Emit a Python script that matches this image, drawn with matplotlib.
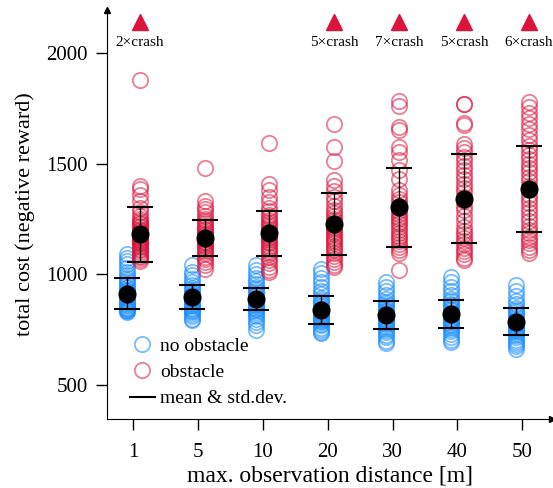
import numpy as np
import matplotlib
matplotlib.use('Agg')
import matplotlib.pyplot as plt
from matplotlib.lines import Line2D

plt.rcParams['font.family'] = ['Liberation Serif', 'DejaVu Serif']

# distances (category labels)
distances = ['1', '5', '10', '20', '30', '40', '50']

# individual runs without obstacle
no_obs_runs = [
    [1090, 1075, 1060, 1045, 1030, 1010, 995, 985, 975, 965, 955, 945, 940, 930, 925, 920, 915, 910,
     905, 900, 895, 890, 885, 880, 875, 870, 865, 860, 855, 850, 848, 845, 840, 838, 835, 830],
    [1040, 1010, 995, 980, 965, 950, 940, 930, 920, 912, 905, 900, 895, 890, 885, 880, 875, 870,
     865, 860, 855, 850, 845, 840, 835, 830, 820, 810, 800, 792],
    [1040, 1020, 1000, 985, 970, 955, 945, 935, 925, 915, 905, 900, 895, 888, 880, 875, 870, 865,
     860, 855, 850, 845, 840, 830, 820, 810, 800, 785, 770, 750],
    [1026, 1005, 985, 965, 945, 925, 910, 895, 885, 875, 865, 855, 850, 845, 840, 835, 830, 825,
     820, 815, 810, 805, 800, 795, 790, 785, 778, 770, 760, 750, 740, 733],
    [965, 945, 925, 905, 890, 875, 865, 855, 848, 840, 835, 830, 825, 820, 815, 810, 805, 800,
     795, 790, 785, 780, 775, 768, 760, 750, 740, 728, 715, 700, 688],
    [988, 965, 945, 925, 905, 890, 878, 868, 860, 852, 845, 838, 832, 826, 820, 815, 810, 805,
     800, 795, 790, 785, 778, 770, 762, 752, 742, 730, 715, 705, 694],
    [950, 925, 900, 880, 865, 850, 840, 830, 822, 815, 808, 800, 795, 790, 785, 780, 775, 770,
     765, 760, 755, 750, 742, 735, 725, 715, 705, 695, 685, 675, 664],
]

# individual runs with obstacle (crashed runs not shown)
obs_runs = [
    [1879, 1400, 1385, 1360, 1330, 1300, 1280, 1265, 1250, 1240, 1232, 1225, 1218, 1212, 1205, 1200,
     1195, 1190, 1185, 1180, 1175, 1170, 1165, 1160, 1155, 1150, 1145, 1140, 1135, 1130, 1122, 1115,
     1108, 1100, 1092, 1085, 1078, 1070, 1062],
    [1482, 1330, 1310, 1295, 1280, 1265, 1250, 1240, 1230, 1220, 1212, 1205, 1198, 1190, 1183, 1176,
     1170, 1164, 1158, 1152, 1146, 1140, 1133, 1126, 1118, 1110, 1100, 1090, 1080, 1068, 1055, 1040, 1025],
    [1595, 1410, 1380, 1350, 1325, 1300, 1285, 1270, 1258, 1246, 1235, 1225, 1216, 1208, 1200, 1192,
     1185, 1178, 1170, 1162, 1155, 1148, 1140, 1130, 1120, 1110, 1100, 1090, 1078, 1065, 1050, 1035,
     1020, 1010],
    [1680, 1575, 1510, 1425, 1400, 1375, 1350, 1330, 1310, 1292, 1278, 1265, 1252, 1240, 1230, 1220,
     1210, 1200, 1190, 1180, 1170, 1160, 1150, 1140, 1130, 1120, 1110, 1098, 1085, 1070, 1055, 1040, 1033],
    [1783, 1760, 1665, 1650, 1575, 1552, 1515, 1470, 1430, 1380, 1360, 1340, 1325, 1310, 1298, 1285,
     1272, 1260, 1248, 1236, 1225, 1212, 1200, 1188, 1175, 1162, 1150, 1138, 1125, 1110, 1095, 1021],
    [1771, 1768, 1681, 1675, 1590, 1570, 1550, 1530, 1510, 1490, 1470, 1450, 1430, 1410, 1390, 1370,
     1350, 1330, 1310, 1290, 1265, 1240, 1215, 1195, 1180, 1165, 1150, 1135, 1120, 1105, 1090, 1075, 1063],
    [1778, 1755, 1730, 1705, 1680, 1655, 1630, 1605, 1580, 1560, 1540, 1520, 1500, 1480, 1460, 1440,
     1420, 1400, 1380, 1360, 1340, 1320, 1300, 1280, 1260, 1240, 1220, 1200, 1185, 1170, 1155, 1140,
     1125, 1110, 1095],
]

# mean & std.dev.
no_obs_mean = [913, 898, 887, 839, 817, 822, 787]
no_obs_std = [70, 55, 50, 63, 62, 63, 59]
obs_mean = [1180, 1163, 1185, 1228, 1302, 1342, 1386]
obs_std = [125, 82, 102, 139, 180, 199, 195]

# number of crashed runs with obstacle
crashes = [2, 0, 0, 5, 7, 5, 6]

blue = '#1e90ff'
red = '#dc143c'
off = 0.1

fig = plt.figure(figsize=(5.53, 4.88), dpi=100)
ax = fig.add_axes([0.1935, 0.1414, 0.8047, 0.838])

x = np.arange(len(distances))
for i in x:
    ax.plot(np.full(len(no_obs_runs[i]), i - off), no_obs_runs[i], 'o', ms=11, mfc='none',
            mec=blue, mew=1.3, alpha=0.6)
    ax.plot(np.full(len(obs_runs[i]), i + off), obs_runs[i], 'o', ms=11, mfc='none',
            mec=red, mew=1.3, alpha=0.55)

ax.errorbar(x - off, no_obs_mean, yerr=no_obs_std, fmt='o', color='black', ms=12,
            elinewidth=1, capsize=9.4, capthick=1.5, zorder=5)
ax.errorbar(x + off, obs_mean, yerr=obs_std, fmt='o', color='black', ms=12,
            elinewidth=1, capsize=9.4, capthick=1.5, zorder=5)

# crash markers
for i in x:
    if crashes[i] > 0:
        ax.plot(i + off, 2137, '^', color=red, ms=11, clip_on=False)
        ax.text(i + off, 2045, '%d×crash' % crashes[i], ha='center', va='center', fontsize=11)

ax.set_xlim(-0.406, 6.46)
ax.set_ylim(347, 2193)
ax.set_xticks(x)
ax.set_xticklabels(distances)
ax.set_yticks([500, 1000, 1500, 2000])
ax.tick_params(direction='out', length=8, width=1, labelsize=15)
ax.tick_params(axis='x', pad=9)
ax.tick_params(axis='y', pad=6)
ax.spines['top'].set_visible(False)
ax.spines['right'].set_visible(False)
ax.plot(1, 0, '>', color='black', ms=5, transform=ax.transAxes, clip_on=False)
ax.plot(0, 1, '^', color='black', ms=5, transform=ax.transAxes, clip_on=False)

ax.set_xlabel('max. observation distance [m]', fontsize=17, labelpad=3)
ax.set_ylabel('total cost (negative reward)', fontsize=16, labelpad=8)

handles = [
    Line2D([], [], marker='o', ls='none', ms=11, mfc='none', mec=blue, mew=1.3, alpha=0.6),
    Line2D([], [], marker='o', ls='none', ms=11, mfc='none', mec=red, mew=1.3, alpha=0.55),
    Line2D([], [], color='black', lw=1.5),
]
ax.legend(handles, ['no obstacle', 'obstacle', 'mean & std.dev.'], loc='lower left',
          bbox_to_anchor=(0.025, 0.0), frameon=False, fontsize=14, handlelength=1.3,
          handletextpad=0.25, labelspacing=0.45, borderaxespad=0.2)

plt.savefig('out.png', dpi=100)
